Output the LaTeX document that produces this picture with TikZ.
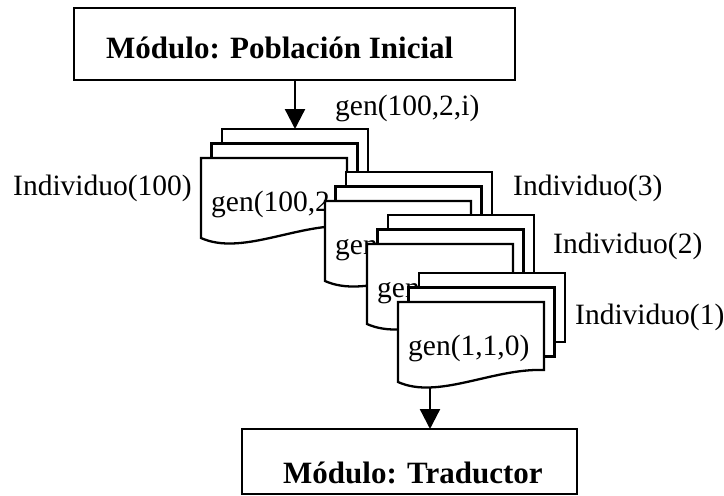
\documentclass[tikz,border=0pt]{standalone}
\usepackage{fontspec}
\setmainfont{Liberation Serif}
\usetikzlibrary{arrows.meta}

\tikzset{
  lw/.style={line width=2.3pt},
  sheet/.style={lw, draw, fill=white, rectangle, inner sep=0pt, outer sep=0pt,
                minimum width=146pt, minimum height=69pt, anchor=north west},
  doc/.style={lw, draw, fill=white, line join=miter},
  modbox/.style={line width=2.4pt, draw, rectangle, inner sep=0pt, outer sep=0pt, anchor=north west},
  lbl/.style={font=\fontsize{29.5}{34}\selectfont, inner sep=0pt, anchor=base west},
  modtxt/.style={inner sep=0pt, anchor=base west, font=\fontsize{31}{36}\selectfont\bfseries},
  flow/.style={lw, -{Triangle[width=20pt,length=20pt]}}
}

% a stack of three sheets: two plain ones behind a document-shaped front sheet
% #1 name, #2 left of front sheet, #3 top of front sheet, #4 text on front sheet
\newcommand{\sheetstack}[4]{%
  \node[sheet] (#1c) at ({#2+21},{#3-29}) {};
  \node[sheet] (#1b) at ({#2+10.5},{#3-14.5}) {};
  \filldraw[doc] (#2,#3) -- ({#2+146},#3) -- ({#2+146},{#3+68})
     .. controls ({#2+95},{#3+66}) and ({#2+40},{#3+98}) .. (#2,{#3+80}) -- cycle;
  \coordinate (#1a) at ({#2+73},#3);
  \coordinate (#1w) at ({#2+32},{#3+85.4});
  \node[lbl] (#1t) at ({#2+10},{#3+53}) {#4};
}

\begin{document}
\begin{tikzpicture}[x=1pt,y=-1pt]
  \useasboundingbox (0,0) rectangle (724,496);

  % module boxes
  \node[modbox, minimum width=441pt, minimum height=72pt] (title) at (74,8) {};
  \node[modtxt] (titletxt) at (106,58) {Módulo: Población Inicial};

  \node[modbox, minimum width=335pt, minimum height=65pt] (trad) at (242,429) {};
  \node[modtxt] (tradtxt) at (283,483) {Módulo: Traductor};

  % individuals, from the last one to the first
  \sheetstack{ga}{201}{158}{gen(100,2}
  \sheetstack{gb}{325}{201}{gen}
  \sheetstack{gc}{367}{244}{gen}
  \sheetstack{gd}{398}{302}{gen(1,1,0)}

  % labels
  \node[lbl] (lgen) at (335,115) {gen(100,2,i)};
  \node[lbl] (l100) at (13,195) {Individuo(100)};
  \node[lbl] (l3) at (513,195) {Individuo(3)};
  \node[lbl] (l2) at (553,253) {Individuo(2)};
  \node[lbl] (l1) at (575,324) {Individuo(1)};

  % flow
  \draw[flow] (title.south -| gac.north) -- (gac.north);
  \draw[flow] (gdw) -- (gdw |- trad.north);
\end{tikzpicture}
\end{document}
